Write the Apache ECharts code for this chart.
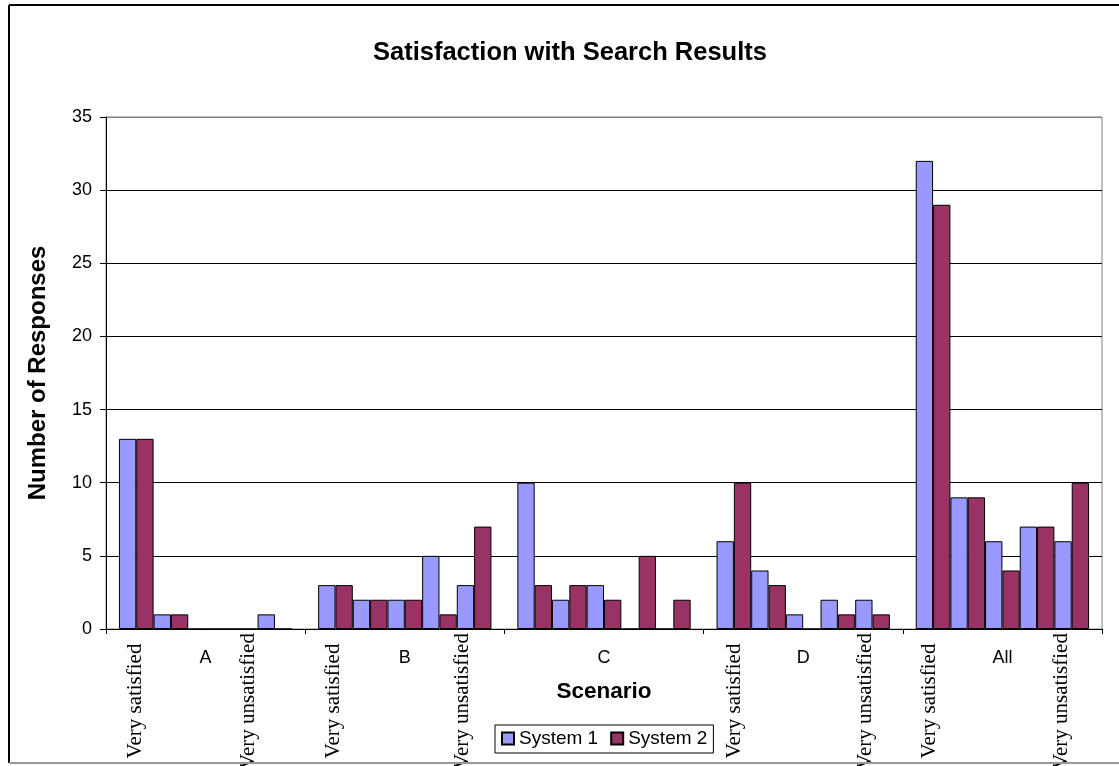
<!DOCTYPE html>
<html>
<head>
<meta charset="utf-8">
<title>Satisfaction with Search Results</title>
<script src="https://cdn.jsdelivr.net/npm/echarts@6/dist/echarts.min.js"></script>
<style>
  html, body { margin: 0; padding: 0; background: #fff; }
  #chart { width: 1119px; height: 766px; }
</style>
</head>
<body>
<div id="chart"></div>
<script>
// Scenarios along the category axis
const scenarios = ['A', 'B', 'C', 'D', 'All'];
// Rating levels, from best to worst (one bar pair per level inside each scenario)
const ratingLevels = ['Very satisfied', 'Satisfied', 'Neutral', 'Unsatisfied', 'Very unsatisfied'];
// Responses per scenario (rows) and rating level (columns)
const system1 = [
  [13, 1, 0, 0, 1],
  [3, 2, 2, 5, 3],
  [10, 2, 3, 0, 0],
  [6, 4, 1, 2, 2],
  [32, 9, 6, 7, 6]
];
const system2 = [
  [13, 1, 0, 0, 0],
  [3, 2, 2, 1, 7],
  [3, 3, 2, 5, 2],
  [10, 3, 0, 1, 1],
  [29, 9, 4, 7, 10]
];
const yMin = 0, yMax = 35, yStep = 5;

// Where the rotated end-of-scale captions sit inside each scenario band (fraction of band width)
const scaleCaptionSpots = [
  { scenario: 'A', first: 0.146, last: 0.714 },
  { scenario: 'B', first: 0.140, last: 0.789 },
  { scenario: 'D', first: 0.156, last: 0.814 },
  { scenario: 'All', first: 0.136, last: 0.799 }
];

const colors = { s1: '#9999FF', s2: '#993366' };
const sans = 'Arial, "Liberation Sans", sans-serif';
const serif = '"Times New Roman", "Liberation Serif", serif';

const chart = echarts.init(document.getElementById('chart'), null, { renderer: 'canvas' });

// One pair of series per rating level; pairs share the legend names
const series = [];
ratingLevels.forEach(function (level, r) {
  [['System 1', system1, colors.s1], ['System 2', system2, colors.s2]].forEach(function (s) {
    series.push({
      type: 'bar',
      name: s[0],
      data: scenarios.map(function (_, i) { return s[1][i][r]; }),
      barGap: '0%',
      barCategoryGap: '13%',
      itemStyle: { color: s[2], borderColor: '#000', borderWidth: 1 },
      emphasis: { disabled: true },
      animation: false
    });
  });
});

const splitColors = [];
for (let v = yMin; v <= yMax; v += yStep) splitColors.push(v === yMax ? '#808080' : '#000');

chart.setOption({
  backgroundColor: '#fff',
  animation: false,
  title: {
    text: 'Satisfaction with Search Results',
    left: 368,
    top: 35,
    textStyle: { fontFamily: sans, fontSize: 25.5, fontWeight: 'bold', color: '#000' }
  },
  legend: {
    data: ['System 1', 'System 2'],
    left: 495,
    top: 725,
    orient: 'horizontal',
    icon: 'rect',
    itemWidth: 12,
    itemHeight: 12,
    itemGap: 12,
    padding: [4, 6, 5, 6],
    borderColor: '#000',
    borderWidth: 1,
    selectedMode: false,
    textStyle: { fontFamily: sans, fontSize: 19, color: '#000' }
  },
  grid: {
    left: 106,
    right: 17,
    top: 117,
    bottom: 137,
    show: true,
    borderColor: '#808080',
    borderWidth: 1,
    backgroundColor: 'transparent',
    containLabel: false
  },
  xAxis: {
    type: 'category',
    data: scenarios,
    name: 'Scenario',
    nameLocation: 'middle',
    nameGap: 51,
    nameTextStyle: { fontFamily: sans, fontSize: 22.5, fontWeight: 'bold', color: '#000' },
    axisLine: { lineStyle: { color: '#000', width: 1 } },
    axisTick: { show: true, length: 5, lineStyle: { color: '#000' } },
    axisLabel: { fontFamily: sans, fontSize: 18, color: '#000', margin: 20 },
    splitLine: { show: false }
  },
  yAxis: {
    type: 'value',
    min: yMin,
    max: yMax,
    interval: yStep,
    name: 'Number of Responses',
    nameLocation: 'middle',
    nameGap: 56,
    nameTextStyle: { fontFamily: sans, fontSize: 24, fontWeight: 'bold', color: '#000' },
    axisLine: { show: true, lineStyle: { color: '#000', width: 1 } },
    axisTick: { show: true, length: 6, lineStyle: { color: '#000' } },
    axisLabel: { fontFamily: sans, fontSize: 18, color: '#000', margin: 14 },
    splitLine: { show: true, lineStyle: { color: splitColors, width: 1 } }
  },
  series: series
});

// Rotated captions marking the two ends of the rating scale beneath each scenario
function placeCaptions() {
  const c0 = chart.convertToPixel({ xAxisIndex: 0 }, scenarios[0]);
  const c1 = chart.convertToPixel({ xAxisIndex: 0 }, scenarios[1]);
  const band = c1 - c0;
  const axisY = chart.convertToPixel({ yAxisIndex: 0 }, yMin);
  const captionY = axisY + 72;
  const elements = [];
  scaleCaptionSpots.forEach(function (spot) {
    const center = chart.convertToPixel({ xAxisIndex: 0 }, spot.scenario);
    const start = center - band / 2;
    [[spot.first, ratingLevels[0]], [spot.last, ratingLevels[ratingLevels.length - 1]]].forEach(function (p) {
      elements.push({
        type: 'text',
        x: start + p[0] * band,
        y: captionY,
        rotation: Math.PI / 2,
        silent: true,
        style: {
          text: p[1],
          font: '21px ' + serif,
          fill: '#000',
          align: 'center',
          verticalAlign: 'middle'
        }
      });
    });
  });
  // Chart frame
  elements.push({ type: 'line', silent: true, shape: { x1: 9, y1: 5, x2: 1119, y2: 5 }, style: { stroke: '#000', lineWidth: 2 } });
  elements.push({ type: 'line', silent: true, shape: { x1: 9, y1: 5, x2: 9, y2: 763 }, style: { stroke: '#000', lineWidth: 2 } });
  elements.push({ type: 'line', silent: true, shape: { x1: 9, y1: 763, x2: 1119, y2: 763 }, style: { stroke: '#999', lineWidth: 2 } });
  chart.setOption({ graphic: { elements: elements } });
}
placeCaptions();
</script>
</body>
</html>
